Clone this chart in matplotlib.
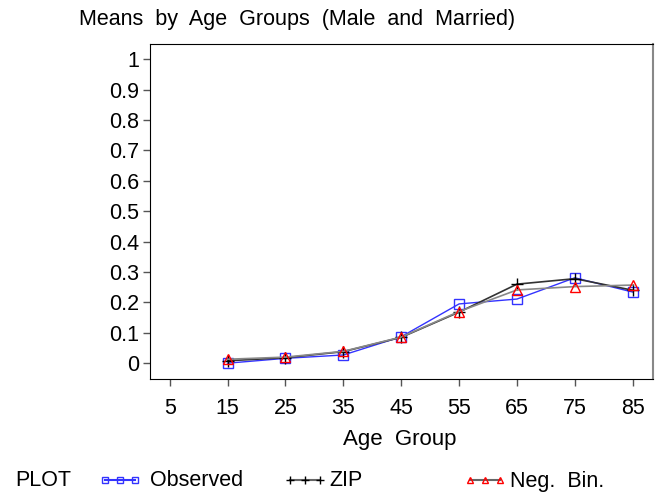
import matplotlib.pyplot as plt
from matplotlib.lines import Line2D

plt.rcParams['font.family'] = ['Liberation Sans', 'DejaVu Sans']

age = [15, 25, 35, 45, 55, 65, 75, 85]
observed = [0.0, 0.016, 0.027, 0.087, 0.195, 0.211, 0.281, 0.234]
zip_fit = [0.008, 0.018, 0.038, 0.085, 0.168, 0.260, 0.278, 0.240]
negbin = [0.013, 0.020, 0.039, 0.086, 0.170, 0.241, 0.252, 0.257]

x_ticks = [5, 15, 25, 35, 45, 55, 65, 75, 85]
y_ticks = [0, 0.1, 0.2, 0.3, 0.4, 0.5, 0.6, 0.7, 0.8, 0.9, 1]
y_labels = ['0', '0.1', '0.2', '0.3', '0.4', '0.5', '0.6', '0.7', '0.8', '0.9', '1']

fig = plt.figure(figsize=(6.64, 4.96), dpi=100)
ax = fig.add_axes([150 / 664, 1 - 379 / 496, 503 / 664, 335 / 496])

ax.plot(age, observed, color='#3333ff', lw=1, marker='s', ms=7, mfc='none',
        mec='#3333ff', mew=1)
ax.plot(age, zip_fit, color='#333333', lw=1.2, marker='+', ms=9, mec='black', mew=1)
ax.plot(age, negbin, color='#888888', lw=1.2, marker='^', ms=7, mfc='none',
        mec='red', mew=1)

ax.set_xlim(1.6, 88.5)
ax.set_ylim(-0.052, 1.05)
ax.set_xticks(x_ticks)
ax.set_xticklabels([str(v) for v in x_ticks])
ax.set_yticks(y_ticks)
ax.set_yticklabels(y_labels)
ax.tick_params(direction='out', length=5, width=1, labelsize=15.5, pad=3,
               color='#555555')
ax.tick_params(axis='x', pad=9)
for s in ['left', 'bottom', 'top']:
    ax.spines[s].set_color('black')
ax.spines['right'].set_color('#888888')
ax.spines['right'].set_linewidth(1.5)

fig.text(79 / 664, 1 - 20 / 496, 'Means  by  Age  Groups  (Male  and  Married)',
         fontsize=15.5, ha='left', va='center')
fig.text(400 / 664, 1 - 440 / 496, 'Age  Group', fontsize=16, ha='center', va='center')

# legend row
fig.text(15 / 664, 1 - 481 / 496, 'PLOT', fontsize=15.5, ha='left', va='center')
legend_items = [
    (105, 150, 'Observed', dict(color='#3333ff', marker='s', ms=4, mfc='none', mec='#3333ff')),
    (290, 329, 'ZIP', dict(color='#666666', marker='+', ms=6, mec='black')),
    (470, 510, 'Neg.  Bin.', dict(color='#666666', marker='^', ms=4, mfc='none', mec='red')),
]
for x0, xt, label, style in legend_items:
    xs = [x0 / 664, (x0 + 15) / 664, (x0 + 30) / 664]
    y = 1 - 480 / 496
    fig.add_artist(Line2D(xs, [y, y, y], lw=1.5, transform=fig.transFigure, **style))
    fig.text(xt / 664, 1 - 481 / 496, label, fontsize=15.5, ha='left', va='center')

fig.savefig('out.png', dpi=100)
